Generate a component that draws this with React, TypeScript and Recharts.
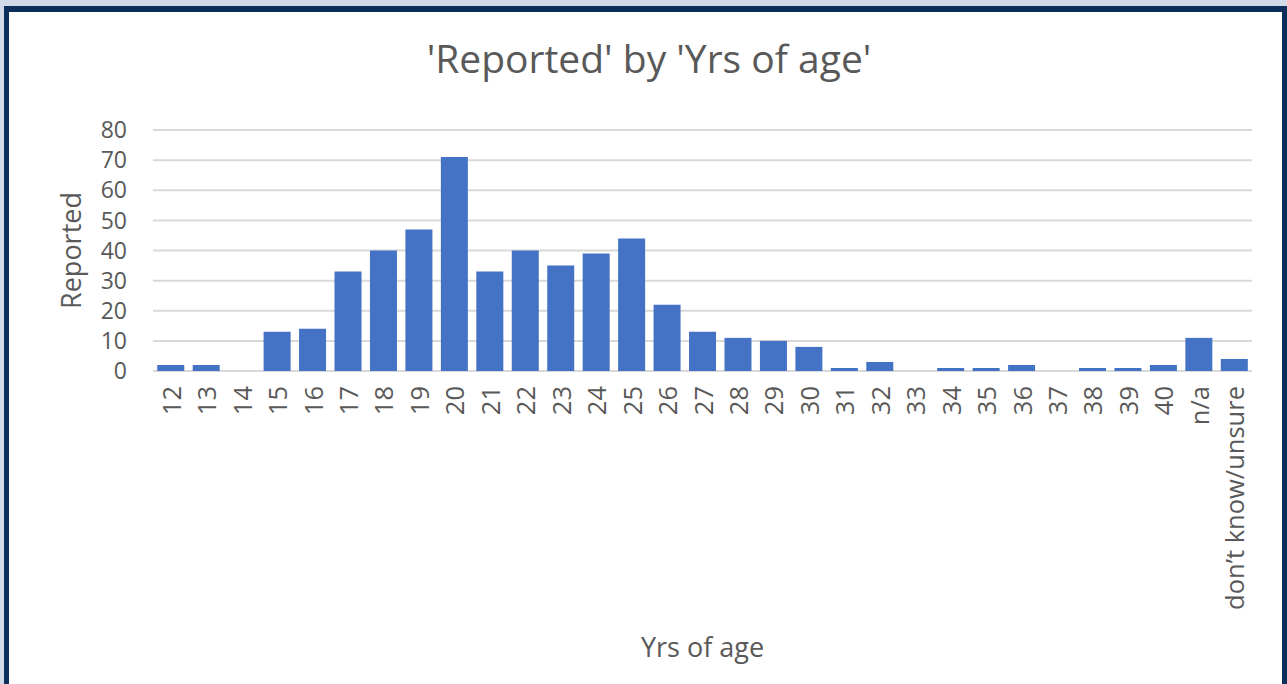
import React from "react";
import { BarChart, Bar, XAxis, YAxis, CartesianGrid, Label } from "recharts";

const categories = [
  "12", "13", "14", "15", "16", "17", "18", "19", "20", "21", "22", "23", "24", "25", "26",
  "27", "28", "29", "30", "31", "32", "33", "34", "35", "36", "37", "38", "39", "40", "n/a",
  "don\u2019t know/unsure",
];
const reported = [
  2, 2, 0, 13, 14, 33, 40, 47, 71, 33, 40, 35, 39, 44, 22,
  13, 11, 10, 8, 1, 3, 0, 1, 1, 2, 0, 1, 1, 2, 11,
  4,
];
const yTicks = [0, 10, 20, 30, 40, 50, 60, 70, 80];

const data = categories.map((c, i) => ({ age: c, reported: reported[i] }));

const FONT = "'Open Sans', 'DejaVu Sans', sans-serif";
const TEXT = "#595959";

const XTick = (props: any) => {
  const { x, y, payload } = props;
  return (
    <text
      x={x}
      y={y}
      transform={`rotate(-90, ${x}, ${y})`}
      textAnchor="end"
      dominantBaseline="central"
      fill={TEXT}
      fontSize={25.5}
      fontFamily={FONT}
    >
      {payload.value}
    </text>
  );
};

export default function App() {
  return (
    <div
      style={{
        position: "fixed",
        left: 0,
        top: 0,
        width: 1287,
        height: 684,
        background: "#d3dae7",
        overflow: "hidden",
      }}
    >
      <div
        style={{
          position: "absolute",
          left: 4,
          top: 6,
          width: 1283 - 10,
          height: 700,
          border: "5px solid #0b2e5b",
          borderTopWidth: 6,
          background: "#ffffff",
        }}
      />
      <div style={{ position: "absolute", left: 0, top: 0 }}>
        <BarChart
          width={1287}
          height={684}
          data={data}
          margin={{ top: 130, right: 35, bottom: 13, left: 0 }}
          barCategoryGap="12%"
        >
          <CartesianGrid vertical={false} stroke="#d9d9d9" strokeWidth={2} />
          <XAxis
            dataKey="age"
            interval={0}
            height={300}
            axisLine={false}
            tickLine={false}
            tickMargin={9}
            tick={<XTick />}
          >
            <Label
              content={(p: any) => {
                const vb = p.viewBox;
                return (
                  <text
                    x={vb.x + vb.width / 2}
                    y={vb.y + vb.height - 14}
                    textAnchor="middle"
                    fill={TEXT}
                    fontSize={27}
                    fontFamily={FONT}
                  >
                    Yrs of age
                  </text>
                );
              }}
            />
          </XAxis>
          <YAxis
            width={153}
            domain={[0, 80]}
            ticks={yTicks}
            interval={0}
            axisLine={false}
            tickLine={false}
            tickMargin={20}
            tick={{ fill: TEXT, fontSize: 23, fontFamily: FONT }}
          >
            <Label
              content={(p: any) => {
                const vb = p.viewBox;
                const cx = 70;
                const cy = vb.y + vb.height / 2;
                return (
                  <text
                    x={cx}
                    y={cy}
                    transform={`rotate(-90, ${cx}, ${cy})`}
                    textAnchor="middle"
                    dominantBaseline="central"
                    fill={TEXT}
                    fontSize={27}
                    fontFamily={FONT}
                  >
                    Reported
                  </text>
                );
              }}
            />
          </YAxis>
          <Bar dataKey="reported" fill="#4472c4" isAnimationActive={false} />
        </BarChart>
      </div>
      <svg
        width={1287}
        height={684}
        style={{ position: "absolute", left: 0, top: 0, pointerEvents: "none" }}
      >
        <text
          x={649}
          y={73}
          textAnchor="middle"
          fill={TEXT}
          fontSize={39}
          fontFamily={FONT}
        >
          'Reported' by 'Yrs of age'
        </text>
      </svg>
    </div>
  );
}
